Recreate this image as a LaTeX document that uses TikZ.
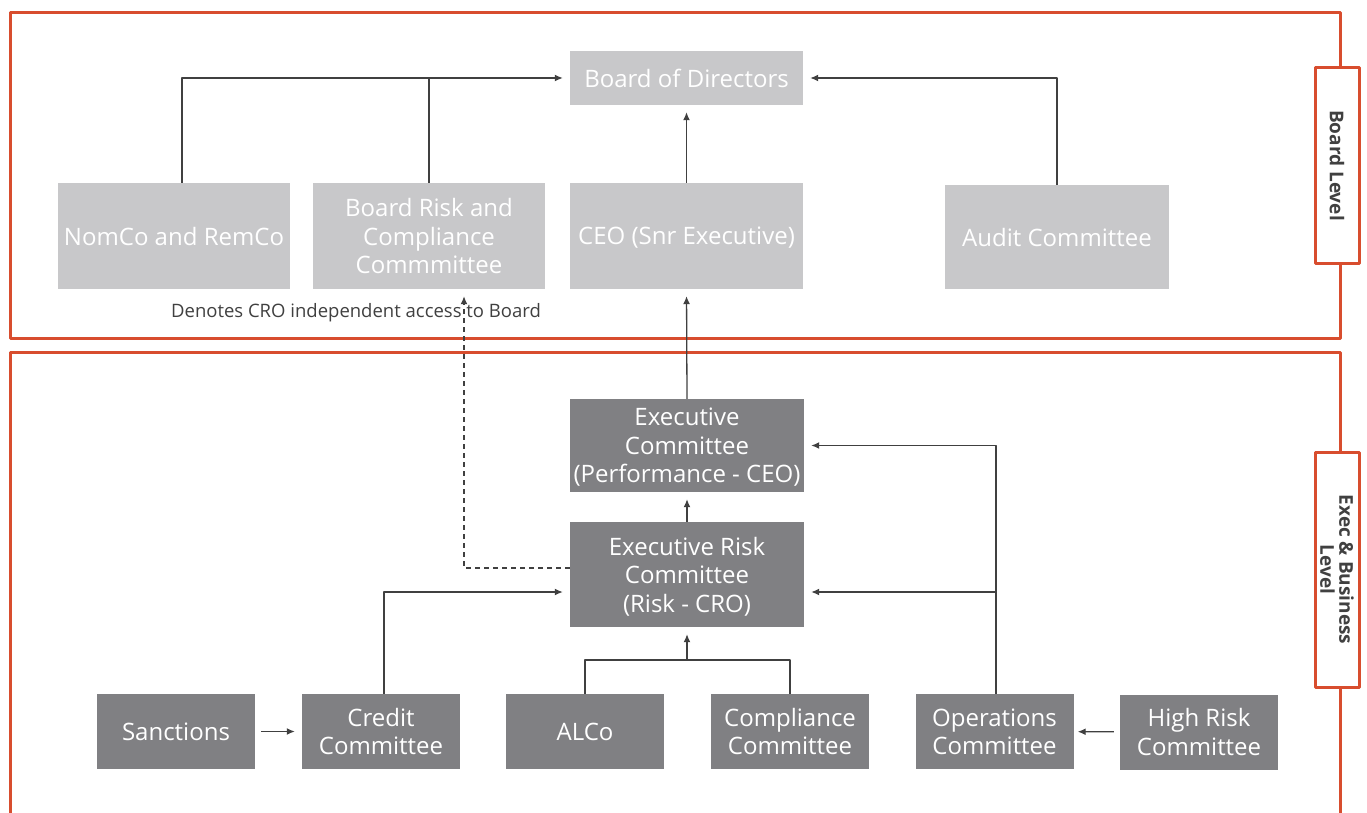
\documentclass[tikz,border=0pt]{standalone}
\usepackage{fontspec}
\setmainfont{Open Sans}
\usepackage{tikz}
\usetikzlibrary{arrows.meta}
\definecolor{framered}{RGB}{216,77,46}
\definecolor{boardgrey}{RGB}{200,200,202}
\definecolor{execgrey}{RGB}{128,128,131}
\definecolor{linegrey}{RGB}{64,64,64}

\begin{document}
\begin{tikzpicture}[x=1pt,y=-1pt,line cap=round,line join=round,>={Latex[length=8pt,width=7pt]},
  boardbox/.style={fill=boardgrey,text=white,font=\fontsize{24}{28.5}\selectfont,align=center,inner sep=0pt,text depth=0pt,minimum width=232,minimum height=106},
  execbox/.style={boardbox,fill=execgrey,minimum width=234},
  smallbox/.style={execbox,minimum width=158,minimum height=75},
  sidebox/.style={draw=framered,line width=3pt,fill=white,text=linegrey,font=\fontsize{19}{19}\bfseries,align=center,rotate=-90,inner sep=0pt,minimum height=44},
  frame/.style={draw=framered,line width=3pt,line cap=butt},
  conn/.style={draw=linegrey,line width=1.3pt,shorten >=7pt,line cap=butt},
  note/.style={text=linegrey,font=\fontsize{18.5}{20}\selectfont,inner sep=0pt}]
\path[use as bounding box,clip] (0,0) rectangle (1367,813);
\draw[frame] (10,13) rectangle (1340,338);
\draw[frame] (10,830) -- (10,352) -- (1340,352) -- (1340,830);
\node[sidebox,minimum width=195] (boardlvl) at (1337,165.5) {Board Level};
\node[sidebox,minimum width=235] (execlvl) at (1337,569.5) {Exec \& Business\\Level};
\node[boardbox,minimum height=54,minimum width=233] (board) at (686.5,78) {Board of Directors};
\node[boardbox] (nomco) at (174,236) {NomCo and RemCo};
\node[boardbox] (brc) at (429,236) {Board Risk and\\Compliance\\Commmittee};
\node[boardbox,minimum width=233] (ceo) at (686.5,236) {CEO (Snr Executive)};
\node[boardbox,minimum width=224,minimum height=104] (audit) at (1057,237) {Audit Committee};
\node[execbox,minimum height=93] (exec) at (687,445.5) {Executive\\Committee\\(Performance - CEO)};
\node[execbox,minimum height=105] (erc) at (687,574.5) {Executive Risk\\Committee\\(Risk - CRO)};
\node[smallbox] (sanc) at (176,731.5) {Sanctions};
\node[smallbox] (credit) at (381,731.5) {Credit\\Committee};
\node[smallbox] (alco) at (585,731.5) {ALCo};
\node[smallbox] (comp) at (790,731.5) {Compliance\\Committee};
\node[smallbox] (ops) at (994.5,731.5) {Operations\\Committee};
\node[smallbox] (highrisk) at (1199,732) {High Risk\\Committee};
\node[note,anchor=base] (cronote) at (356,317) {Denotes CRO independent access to Board};
\coordinate (riskjoin) at (687,660);
\coordinate (risklevel) at ([yshift=-17.5pt]erc.east);
\draw[conn,->] ([xshift=8pt]nomco.north) |- (board.west);
\draw[conn,shorten >=0pt] (brc.north) -- (brc.north |- board.west);
\draw[conn,->] (ceo.north) -- (board.south);
\draw[conn,->] (audit.north) |- (board.east);
\draw[conn,->] (exec.north) -- (ceo.south);
\draw[conn,->] (erc.north) -- (exec.south);
\draw[conn,->,dash pattern=on 5pt off 4pt] ([yshift=6.5pt]erc.west) -| ([xshift=35pt]brc.south);
\draw[conn,->] ([xshift=3pt]credit.north) |- ([yshift=-17.5pt]erc.west);
\draw[conn,->,shorten <=6pt] (sanc) -- (credit);
\draw[conn,shorten >=0pt] (alco.north) |- (riskjoin) -| (comp.north);
\draw[conn,->] (riskjoin) -- (erc.south);
\draw[conn,->] ([xshift=1.5pt]ops.north) |- (exec.east);
\draw[conn,->] ([xshift=1.5pt]ops.north |- risklevel) -- (risklevel);
\draw[conn,->,shorten <=6pt,shorten >=4pt] (highrisk) -- (ops);
\end{tikzpicture}
\end{document}
